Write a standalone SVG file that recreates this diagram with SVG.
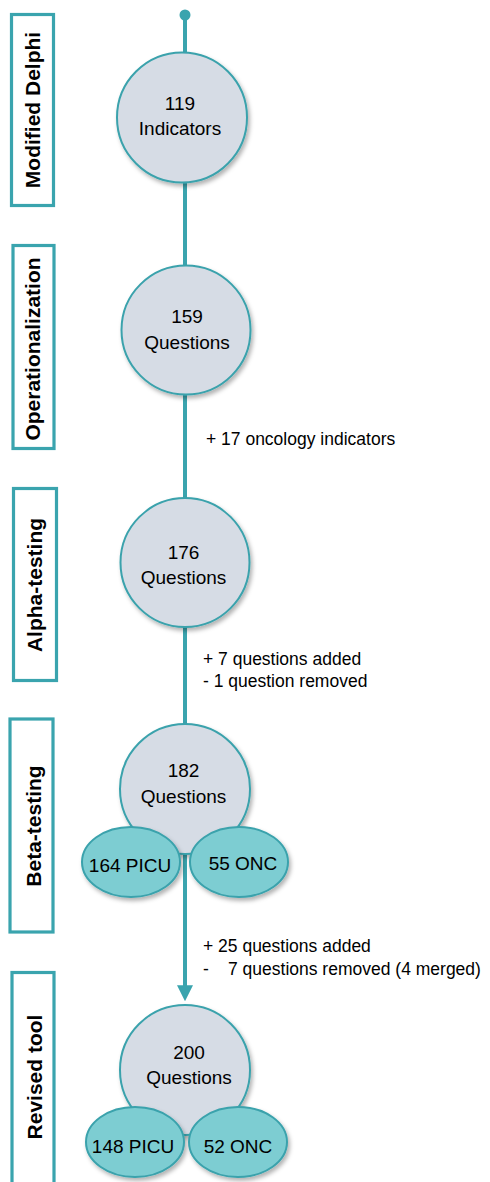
<svg xmlns="http://www.w3.org/2000/svg" width="490" height="1182" viewBox="0 0 490 1182">
<style>
.box{fill:#fff;stroke:#3aa4ae;stroke-width:3.2}
.lbl{font-family:"Liberation Sans",Arial,sans-serif;font-weight:bold;font-size:21px;fill:#000;text-anchor:middle}
.circ{fill:#d6dce5;stroke:#3aa2ac;stroke-width:2;filter:url(#sh)}
.ell{fill:#7dcdd2;stroke:#3aa2ac;stroke-width:2;filter:url(#sh)}
.ct{font-family:"Liberation Sans",Arial,sans-serif;font-size:19px;fill:#000;text-anchor:middle}
.note{font-family:"Liberation Sans",Arial,sans-serif;font-size:17.5px;fill:#000}
.conn{stroke:#3aa4ae;stroke-width:4;fill:none}
</style>
<defs>
<filter id="sh" x="-20%" y="-20%" width="150%" height="150%">
<feDropShadow dx="2" dy="3" stdDeviation="2" flood-color="#000" flood-opacity="0.3"/>
</filter>
<marker id="arr" markerWidth="4" markerHeight="4" refX="2.2" refY="2" orient="auto" markerUnits="strokeWidth">
<path d="M0,0 L4,2 L0,4 Z" fill="#3aa4ae"/>
</marker>
</defs>
<g id="connectors">
<circle cx="185" cy="15" r="5.5" fill="#3aa4ae"/>
<line class="conn" x1="185" y1="15" x2="185" y2="994" marker-end="url(#arr)"/>
</g>
<g id="stage-delphi">
<rect class="box" x="11.5" y="14.5" width="42" height="191"/>
<text class="lbl" transform="translate(40,110) rotate(-90)">Modified Delphi</text>
</g>
<g id="stage-operationalization">
<rect class="box" x="13" y="245.5" width="41" height="203"/>
<text class="lbl" transform="translate(40,349) rotate(-90)">Operationalization</text>
</g>
<g id="stage-alpha">
<rect class="box" x="13.5" y="488.5" width="43" height="192"/>
<text class="lbl" transform="translate(42,585) rotate(-90)">Alpha-testing</text>
</g>
<g id="stage-beta">
<rect class="box" x="10" y="719" width="43" height="213"/>
<text class="lbl" transform="translate(41,826) rotate(-90)">Beta-testing</text>
</g>
<g id="stage-revised">
<rect class="box" x="12" y="972.5" width="42" height="220"/>
<text class="lbl" transform="translate(42,1077) rotate(-90)">Revised tool</text>
</g>
<g id="node-119">
<circle class="circ" cx="182" cy="117.5" r="65"/>
<text class="ct" x="180" y="110">119</text>
<text class="ct" x="180" y="135">Indicators</text>
</g>
<g id="node-159">
<circle class="circ" cx="186" cy="330" r="64.5"/>
<text class="ct" x="187" y="323">159</text>
<text class="ct" x="187" y="349">Questions</text>
</g>
<g id="node-176">
<circle class="circ" cx="185" cy="562.5" r="64.5"/>
<text class="ct" x="183.5" y="559">176</text>
<text class="ct" x="183.5" y="584">Questions</text>
</g>
<g id="node-182">
<circle class="circ" cx="185" cy="789" r="65"/>
<text class="ct" x="183.5" y="777">182</text>
<text class="ct" x="183.5" y="803">Questions</text>
</g>
<g id="node-164picu">
<ellipse class="ell" cx="131" cy="862" rx="49" ry="35"/>
<text class="ct" x="130" y="872">164 PICU</text>
</g>
<g id="node-55onc">
<ellipse class="ell" cx="239" cy="862" rx="49" ry="35"/>
<text class="ct" x="243" y="870">55 ONC</text>
</g>
<g id="node-200">
<circle class="circ" cx="185" cy="1070" r="65"/>
<text class="ct" x="189" y="1059">200</text>
<text class="ct" x="189" y="1084">Questions</text>
</g>
<g id="node-148picu">
<ellipse class="ell" cx="135" cy="1142" rx="49" ry="35"/>
<text class="ct" x="133" y="1153">148 PICU</text>
</g>
<g id="node-52onc">
<ellipse class="ell" cx="238" cy="1142" rx="49" ry="35"/>
<text class="ct" x="238" y="1153">52 ONC</text>
</g>
<g id="notes">
<text class="note" x="206" y="445">+ 17 oncology indicators</text>
<text class="note" x="203" y="665">+ 7 questions added</text>
<text class="note" x="203" y="687">- 1 question removed</text>
<text class="note" x="203" y="952">+ 25 questions added</text>
<text class="note" x="203" y="975">-</text>
<text class="note" x="228" y="975">7 questions removed (4 merged)</text>
</g>
</svg>
